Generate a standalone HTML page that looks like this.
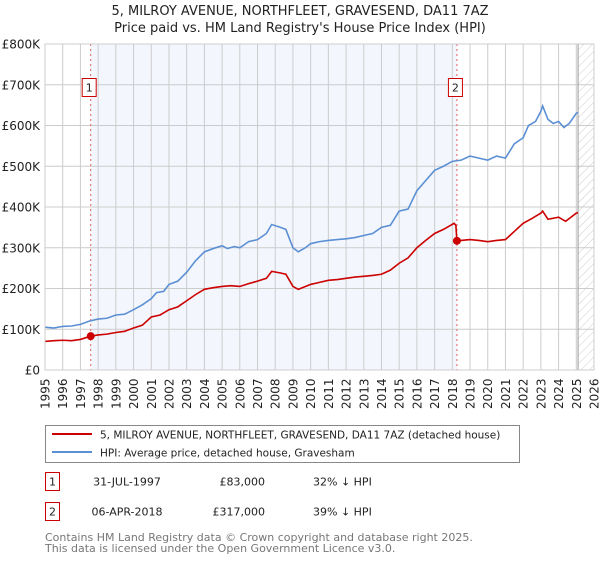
<!DOCTYPE html>
<html><head><meta charset="utf-8"><style>
body{margin:0;background:#fff;font-family:"Liberation Sans","DejaVu Sans",sans-serif;}
svg text{font-family:"DejaVu Sans","Liberation Sans",sans-serif;}
</style></head><body>
<svg id="c" width="600" height="560" xmlns="http://www.w3.org/2000/svg">
<defs><pattern id="hatch" width="6" height="6" patternUnits="userSpaceOnUse" patternTransform="rotate(45)"><line x1="0" y1="0" x2="0" y2="6" stroke="#ccc" stroke-width="1"/></pattern></defs>
<text x="300" y="15" text-anchor="middle" font-size="13" fill="#222">5, MILROY AVENUE, NORTHFLEET, GRAVESEND, DA11 7AZ</text>
<text x="300" y="32" text-anchor="middle" font-size="13" fill="#222">Price paid vs. HM Land Registry's House Price Index (HPI)</text>
<g id="plot"></g>
<rect x="45.5" y="425.5" width="474" height="37" fill="#fff" stroke="#888"/>
<line x1="52" y1="434" x2="92" y2="434" stroke="#cc0000" stroke-width="2"/>
<text x="100" y="438.5" font-size="10.5" fill="#222">5, MILROY AVENUE, NORTHFLEET, GRAVESEND, DA11 7AZ (detached house)</text>
<line x1="52" y1="452" x2="92" y2="452" stroke="#5b8fd4" stroke-width="2"/>
<text x="100" y="456.5" font-size="10.5" fill="#222">HPI: Average price, detached house, Gravesham</text>
<rect x="45.5" y="472.5" width="14" height="18" fill="#fff" stroke="#cc0000"/>
<text x="52.5" y="485.5" text-anchor="middle" font-size="11" fill="#222">1</text>
<text x="127" y="485.5" text-anchor="middle" font-size="11" fill="#222">31-JUL-1997</text>
<text x="265" y="485.5" text-anchor="end" font-size="11" fill="#222">£83,000</text>
<text x="313" y="485.5" font-size="11" fill="#222">32% ↓ HPI</text>
<rect x="45.5" y="502.5" width="14" height="18" fill="#fff" stroke="#cc0000"/>
<text x="52.5" y="515.5" text-anchor="middle" font-size="11" fill="#222">2</text>
<text x="127" y="515.5" text-anchor="middle" font-size="11" fill="#222">06-APR-2018</text>
<text x="265" y="515.5" text-anchor="end" font-size="11" fill="#222">£317,000</text>
<text x="313" y="515.5" font-size="11" fill="#222">39% ↓ HPI</text>
<text x="45" y="541" font-size="11" fill="#777">Contains HM Land Registry data © Crown copyright and database right 2025.</text>
<text x="45" y="552" font-size="11" fill="#777">This data is licensed under the Open Government Licence v3.0.</text>
</svg>
<script>
const hpiYears=[1995,1995.5,1996,1996.5,1997,1997.5,1998,1998.5,1999,1999.5,2000,2000.5,2001,2001.3,2001.7,2002,2002.5,2003,2003.5,2004,2004.5,2005,2005.3,2005.7,2006,2006.5,2007,2007.5,2007.8,2008.3,2008.6,2009,2009.3,2009.7,2010,2010.5,2011,2011.5,2012,2012.5,2013,2013.5,2014,2014.5,2015,2015.5,2016,2016.5,2017,2017.5,2018,2018.5,2019,2019.5,2020,2020.5,2021,2021.5,2022,2022.3,2022.7,2023,2023.1,2023.4,2023.7,2024,2024.3,2024.6,2025,2025.1];
const hpiValues=[105,103,107,108,112,120,125,127,135,137,148,160,175,190,193,210,218,240,268,290,298,305,298,303,300,315,320,335,357,350,345,300,290,300,310,315,318,320,322,325,330,335,350,355,390,395,440,465,490,500,512,515,525,520,515,525,520,555,570,600,610,635,648,615,605,610,595,605,630,632];
const propYears=[1995,1995.5,1996,1996.5,1997,1997.58,1998,1998.5,1999,1999.5,2000,2000.5,2001,2001.5,2002,2002.5,2003,2003.5,2004,2004.5,2005,2005.5,2006,2006.5,2007,2007.5,2007.8,2008.3,2008.6,2009,2009.3,2010,2010.5,2011,2011.5,2012,2012.5,2013,2013.5,2014,2014.5,2015,2015.5,2016,2016.5,2017,2017.5,2018.1,2018.2,2018.26,2019,2019.5,2020,2020.5,2021,2021.5,2022,2022.5,2023,2023.1,2023.4,2024,2024.4,2025,2025.1];
const propValues=[70,72,73,72,75,83,86,88,92,95,103,110,130,135,148,155,170,185,198,202,205,207,205,212,218,225,242,238,235,205,198,210,215,220,222,225,228,230,232,235,245,262,275,300,318,335,345,360,355,317,320,318,315,318,320,340,360,372,385,390,370,375,365,385,386];
const sales=[{t:1997.58,v:83,label:"1"},{t:2018.26,v:317,label:"2"}];
const yTicks=[0,100,200,300,400,500,600,700,800];
const yTickLabels=["£0","£100K","£200K","£300K","£400K","£500K","£600K","£700K","£800K"];
const NS="http://www.w3.org/2000/svg";
const X0=45,X1=594,Y0=370,Y1=44,T0=1995,T1=2026;
const xs=t=>X0+(t-T0)/(T1-T0)*(X1-X0);
const ys=v=>Y0-v/800*(Y0-Y1);
const g=document.getElementById('plot');
function mk(tag,attrs){const e=document.createElementNS(NS,tag);for(const k in attrs)e.setAttribute(k,attrs[k]);g.appendChild(e);return e;}
let r=mk('rect',{x:xs(sales[0].t),y:Y1,width:xs(sales[1].t)-xs(sales[0].t),height:Y0-Y1,fill:'#eef3fc',opacity:0.7});


let h=mk('rect',{x:xs(2025.1),y:Y1,width:X1-xs(2025.1),height:Y0-Y1,fill:'url(#hatch)'});


for(let yr=T0;yr<=T1;yr++){
  let l=mk('line',{x1:xs(yr),x2:xs(yr),y1:Y1,y2:Y0,stroke:'#ccc','stroke-width':1});
  
  
  let t=mk('text',{x:0,y:0,transform:`translate(${xs(yr)+4.5},${Y0+39}) rotate(-90)`,'font-size':12,fill:'#222'});
  t.textContent=yr;
  
  
}
yTicks.forEach((v,i)=>{
  let l=mk('line',{x1:X0,x2:X1,y1:ys(v),y2:ys(v),stroke:'#ccc','stroke-width':1});
  
  
  let t=mk('text',{x:40,y:ys(v)+4.5,'text-anchor':'end','font-size':12,fill:'#222'});
  t.textContent=yTickLabels[i];
  
  
});
let vl=mk('line',{x1:xs(2025.1),x2:xs(2025.1),y1:Y1,y2:Y0,stroke:'#999','stroke-width':1});


sales.forEach(s=>{
  let l=mk('line',{x1:xs(s.t),x2:xs(s.t),y1:Y1,y2:Y0,stroke:'#e06060','stroke-width':1,'stroke-dasharray':'2,3'});
  
  
});
function line(ts,vs,col,name){
  let p=mk('polyline',{points:ts.map((t,i)=>xs(t)+','+ys(vs[i])).join(' '),fill:'none',stroke:col,'stroke-width':1.6});
  
  
}
line(hpiYears,hpiValues,'#5b8fd4','hpi-line');
line(propYears,propValues,'#cc0000','property-price-line');
sales.forEach(s=>{
  let c=mk('circle',{cx:xs(s.t),cy:ys(s.v),r:4,fill:'#cc0000'});
  
  
  let b=mk('rect',{x:xs(s.t)-8.5,y:78.5,width:14,height:18,fill:'#fff',stroke:'#cc0000'});
  
  
  let t=mk('text',{x:xs(s.t)-1.5,y:91.5,'text-anchor':'middle','font-size':11,fill:'#222'});
  t.textContent=s.label;
  
  
});
let fr=mk('rect',{x:X0,y:Y1,width:X1-X0,height:Y0-Y1,fill:'none',stroke:'#ccc'});


</script>
</body></html>
